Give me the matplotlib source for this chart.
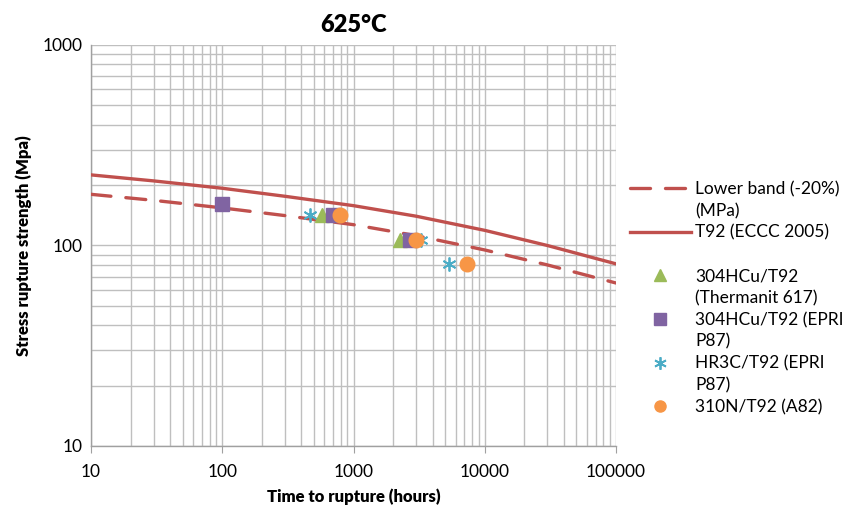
import numpy as np
import matplotlib.pyplot as plt
from matplotlib.lines import Line2D
from matplotlib.ticker import FixedLocator, FuncFormatter, LogLocator, NullFormatter

plt.rcParams["font.family"] = ["Lato", "DejaVu Sans"]

# ECCC 2005 mean curve and the -20% lower band
curve_hours = [10, 30, 100, 300, 1000, 3000, 10000, 30000, 100000]
eccc_mpa = [225, 210, 193, 176, 158, 140, 119, 100, 81]
lower_band_mpa = [180, 168, 154, 141, 127, 112, 95, 80, 65]

# rupture test points
thermanit_hours = [575, 2260]
thermanit_mpa = [142, 106]
epri_304_hours = [100, 700, 2690]
epri_304_mpa = [161, 142, 106]
hr3c_hours = [467, 3270, 5350]
hr3c_mpa = [142, 106, 81]
a82_hours = [790, 3000, 7330]
a82_mpa = [142, 106, 81]

RED = "#C0504D"
GREEN = "#9BBB59"
PURPLE = "#8064A2"
TEAL = "#4BACC6"
ORANGE = "#F79646"
GRID = "#BFBFBF"
DASH = (0, (6, 4.5))

fig = plt.figure(figsize=(8.56, 5.09), dpi=100)
ax = fig.add_axes([91 / 856, 63 / 509, 525 / 856, 401 / 509])

ax.plot(curve_hours, lower_band_mpa, color=RED, lw=2.4, ls=DASH,
        dash_capstyle="round", zorder=3)
ax.plot(curve_hours, eccc_mpa, color=RED, lw=2.4, zorder=3)

ax.plot(hr3c_hours, hr3c_mpa, ls="none", marker=(6, 2, 0), ms=10,
        mec=TEAL, mew=1.3, zorder=4)
ax.plot(thermanit_hours, thermanit_mpa, ls="none", marker="^", ms=9.5,
        color=GREEN, mec=GREEN, zorder=5)
ax.plot(epri_304_hours, epri_304_mpa, ls="none", marker="s", ms=10,
        color=PURPLE, mec=PURPLE, zorder=6)
ax.plot(a82_hours, a82_mpa, ls="none", marker="o", ms=10.5,
        color=ORANGE, mec=ORANGE, zorder=7)

ax.set_xscale("log")
ax.set_yscale("log")
ax.set_xlim(10, 100000)
ax.set_ylim(10, 1000)

ax.xaxis.set_major_locator(FixedLocator([10, 100, 1000, 10000, 100000]))
ax.yaxis.set_major_locator(FixedLocator([10, 100, 1000]))
ax.xaxis.set_minor_locator(LogLocator(base=10, subs=np.arange(2, 10)))
ax.yaxis.set_minor_locator(LogLocator(base=10, subs=np.arange(2, 10)))
ax.xaxis.set_minor_formatter(NullFormatter())
ax.yaxis.set_minor_formatter(NullFormatter())
plain = FuncFormatter(lambda v, p: f"{v:.0f}")
ax.xaxis.set_major_formatter(plain)
ax.yaxis.set_major_formatter(plain)

ax.grid(True, which="both", color=GRID, lw=1.0)
ax.set_axisbelow(True)
ax.tick_params(axis="x", which="major", length=5, color="#A0A0A0",
               labelsize=12.5, pad=8)
ax.tick_params(axis="y", which="major", length=0, labelsize=12.5, pad=6)
ax.tick_params(which="minor", length=0)
for side in ["top", "right"]:
    ax.spines[side].set_visible(False)
for side in ["left", "bottom"]:
    ax.spines[side].set_color("#A0A0A0")
    ax.spines[side].set_linewidth(1.0)

ax.set_title("625°C", fontsize=17, fontweight="heavy", pad=9)
ax.set_xlabel("Time to rupture (hours)", fontsize=12, fontweight="heavy", labelpad=6)
ax.set_ylabel("Stress rupture strength (Mpa)", fontsize=12, fontweight="heavy", labelpad=8)

# Excel style legend: wrapped labels as extra rows with blank handles
blank = Line2D([], [], ls="none")
handles = [
    Line2D([], [], color=RED, lw=2.4, ls=DASH, dash_capstyle="round"),
    blank,
    Line2D([], [], color=RED, lw=2.4),
    blank,
    Line2D([], [], ls="none", marker="^", ms=8, color=GREEN),
    blank,
    Line2D([], [], ls="none", marker="s", ms=8, color=PURPLE),
    blank,
    Line2D([], [], ls="none", marker=(6, 2, 0), ms=9, mec=TEAL, mew=1.3),
    blank,
    Line2D([], [], ls="none", marker="o", ms=8, color=ORANGE),
]
labels = [
    "Lower band (-20%)", "(MPa)", "T92 (ECCC 2005)", " ",
    "304HCu/T92", "(Thermanit 617)", "304HCu/T92 (EPRI", "P87)",
    "HR3C/T92 (EPRI", "P87)", "310N/T92 (A82)",
]
fig.legend(handles, labels, loc="upper left", bbox_to_anchor=(630 / 856, 1 - 181 / 509),
           frameon=False, fontsize=12.5, handlelength=3.5, handletextpad=0.25,
           labelspacing=0.33, borderaxespad=0, borderpad=0)

fig.savefig("out.png", dpi=100)
